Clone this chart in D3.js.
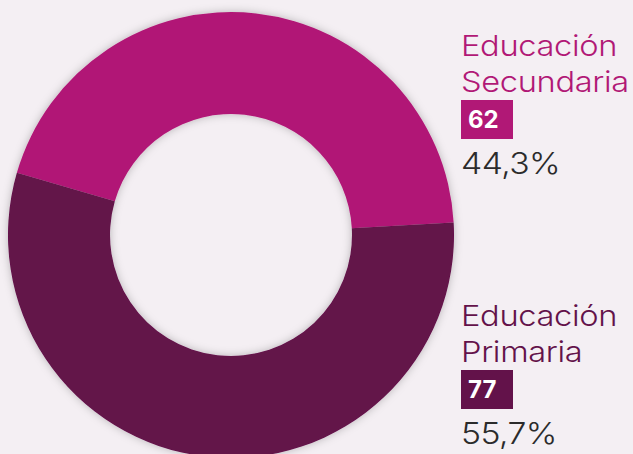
<!DOCTYPE html>
<html>
<head>
<meta charset="utf-8">
<script src="https://cdn.jsdelivr.net/npm/d3@7"></script>
<style>
  body { margin: 0; background: #f4eff3; }
  svg { display: block; }
  text { font-family: "Inter", sans-serif; }
</style>
</head>
<body>
<div id="chart"></div>
<script>
var categories = ["Educación Secundaria", "Educación Primaria"];
var lines = [["Educación", "Secundaria"], ["Educación", "Primaria"]];
var values = [62, 77];
var percents = ["44,3%", "55,7%"];
var colors = ["#b11876", "#63124a"];

var width = 633, height = 454;
var cx = 231, cy = 235, outerR = 223, innerR = 121;

var svg = d3.select("#chart").append("svg")
    .attr("width", width)
    .attr("height", height);

svg.append("rect")
    .attr("width", width)
    .attr("height", height)
    .attr("fill", "#f4eff3");

var defs = svg.append("defs");
var shadow = defs.append("filter")
    .attr("id", "shadow")
    .attr("x", "-20%").attr("y", "-20%")
    .attr("width", "140%").attr("height", "140%");
shadow.append("feDropShadow")
    .attr("dx", 0).attr("dy", 0)
    .attr("stdDeviation", 4)
    .attr("flood-color", "#000")
    .attr("flood-opacity", 0.25);

var data = categories.map((c, i) => ({ name: c, value: values[i], i: i }));

var start = -73.8 * Math.PI / 180;
var pie = d3.pie()
    .sort(null)
    .value(d => d.value)
    .startAngle(start)
    .endAngle(start + 2 * Math.PI);

var arc = d3.arc()
    .innerRadius(innerR)
    .outerRadius(outerR);

var g = svg.append("g")
    .attr("transform", `translate(${cx},${cy})`)
    .attr("filter", "url(#shadow)");

g.selectAll("path")
  .data(pie(data))
  .join("path")
  .attr("d", arc)
  .attr("fill", d => colors[d.data.i]);

// labels (the original face is wider than Inter, so stretch it a bit)
var labelX = 461;
var tops = [56, 326];
var stretch = "scale(1.125,1)";

var label = svg.selectAll("g.label")
  .data(data)
  .join("g")
  .attr("class", "label")
  .attr("transform", (d, i) => `translate(${labelX},${tops[i]})`);

label.each(function(d, i) {
  var el = d3.select(this);
  lines[i].forEach((t, j) => {
    el.append("text")
      .attr("transform", `translate(0,${j * 36}) ${stretch}`)
      .attr("fill", colors[i])
      .style("font-size", "29px")
      .style("font-weight", 300)
      .style("letter-spacing", "-0.3px")
      .text(t);
  });
  el.append("rect")
    .attr("x", 0)
    .attr("y", 44)
    .attr("width", 52)
    .attr("height", 39)
    .attr("fill", colors[i]);
  el.append("text")
    .attr("x", 7)
    .attr("y", 72)
    .attr("fill", "#fff")
    .style("font-size", "24px")
    .style("font-weight", 700)
    .text(values[i]);
  el.append("text")
    .attr("transform", `translate(0,118) ${stretch}`)
    .attr("fill", "#2b2b2b")
    .style("font-size", "30px")
    .style("font-weight", 300)
    .style("letter-spacing", "-0.5px")
    .text(percents[i]);
});
</script>
</body>
</html>
